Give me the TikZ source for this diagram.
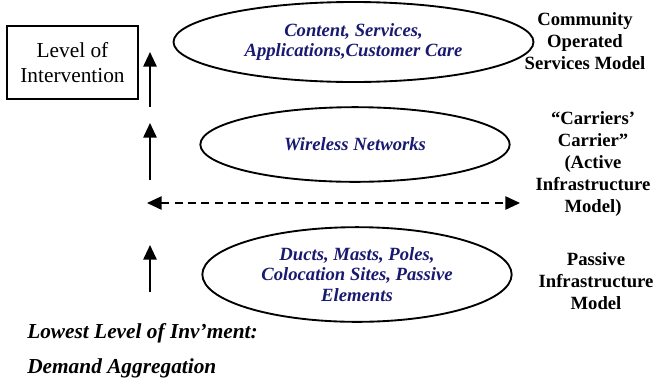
\documentclass[tikz,border=0pt]{standalone}
\usepackage{fontspec}
\setmainfont{Liberation Serif}
\usetikzlibrary{shapes.geometric,arrows.meta}
\definecolor{navy}{RGB}{25,25,112}

\begin{document}
\begin{tikzpicture}[x=0.75pt,y=-0.75pt,
        up/.style={line width=1.4pt, -{Triangle[length=11pt,width=10pt]}},
        layer/.style={ellipse, draw, line width=1.4pt, inner sep=0pt, align=center, text=navy,
            font=\fontsize{14}{15.5}\selectfont\bfseries\itshape},
        model/.style={align=center, font=\fontsize{14}{16.5}\selectfont\bfseries},
        base/.style={anchor=base west, inner sep=0pt, font=\fontsize{16}{18}\selectfont\bfseries\itshape}]
        \useasboundingbox (0,0) rectangle (655,383);

        \coordinate (1) at (150,107);
        \coordinate (2) at (150,52);
        \coordinate (3) at (150,180);
        \coordinate (4) at (150,123);
        \coordinate (5) at (150,292);
        \coordinate (6) at (150,245);
        \coordinate (7) at (147,203);
        \coordinate (8) at (520,203);

        \node[draw, line width=1.4pt, minimum width=98pt, minimum height=55pt, align=center,
            font=\fontsize{16}{18.75}\selectfont] (level) at (72.5,62.5) {Level of\\Intervention};

        \node[layer, minimum width=270pt, minimum height=60pt] (top) at (353.5,42)
            {Content, Services,\\Applications,Customer Care};
        \node[layer, minimum width=232pt, minimum height=56pt] (mid) at (355,144.5) {Wireless Networks};
        \node[layer, minimum width=232pt, minimum height=71pt] (low) at (357,274.5)
            {Ducts, Masts, Poles,\\Colocation Sites, Passive\\Elements};

        \node[model] (community) at (585,41) {Community\\Operated\\Services Model};
        \node[model] (carrier) at (593,164) {“Carriers’\\Carrier”\\(Active\\Infrastructure\\Model)};
        \node[model] (passive) at (596,281) {Passive\\Infrastructure\\Model};

        \node[base] (lowest) at (27,338) {Lowest Level of Inv’ment:};
        \node[base] (demand) at (27,373) {Demand Aggregation};

        \draw[up] (1) -- (2);
        \draw[up] (3) -- (4);
        \draw[up] (5) -- (6);
        \draw[line width=1.2pt, dash pattern=on 6pt off 4pt,
            {Triangle[length=11pt,width=10pt]}-{Triangle[length=11pt,width=10pt]}] (7) -- (8);
    \end{tikzpicture}
\end{document}
